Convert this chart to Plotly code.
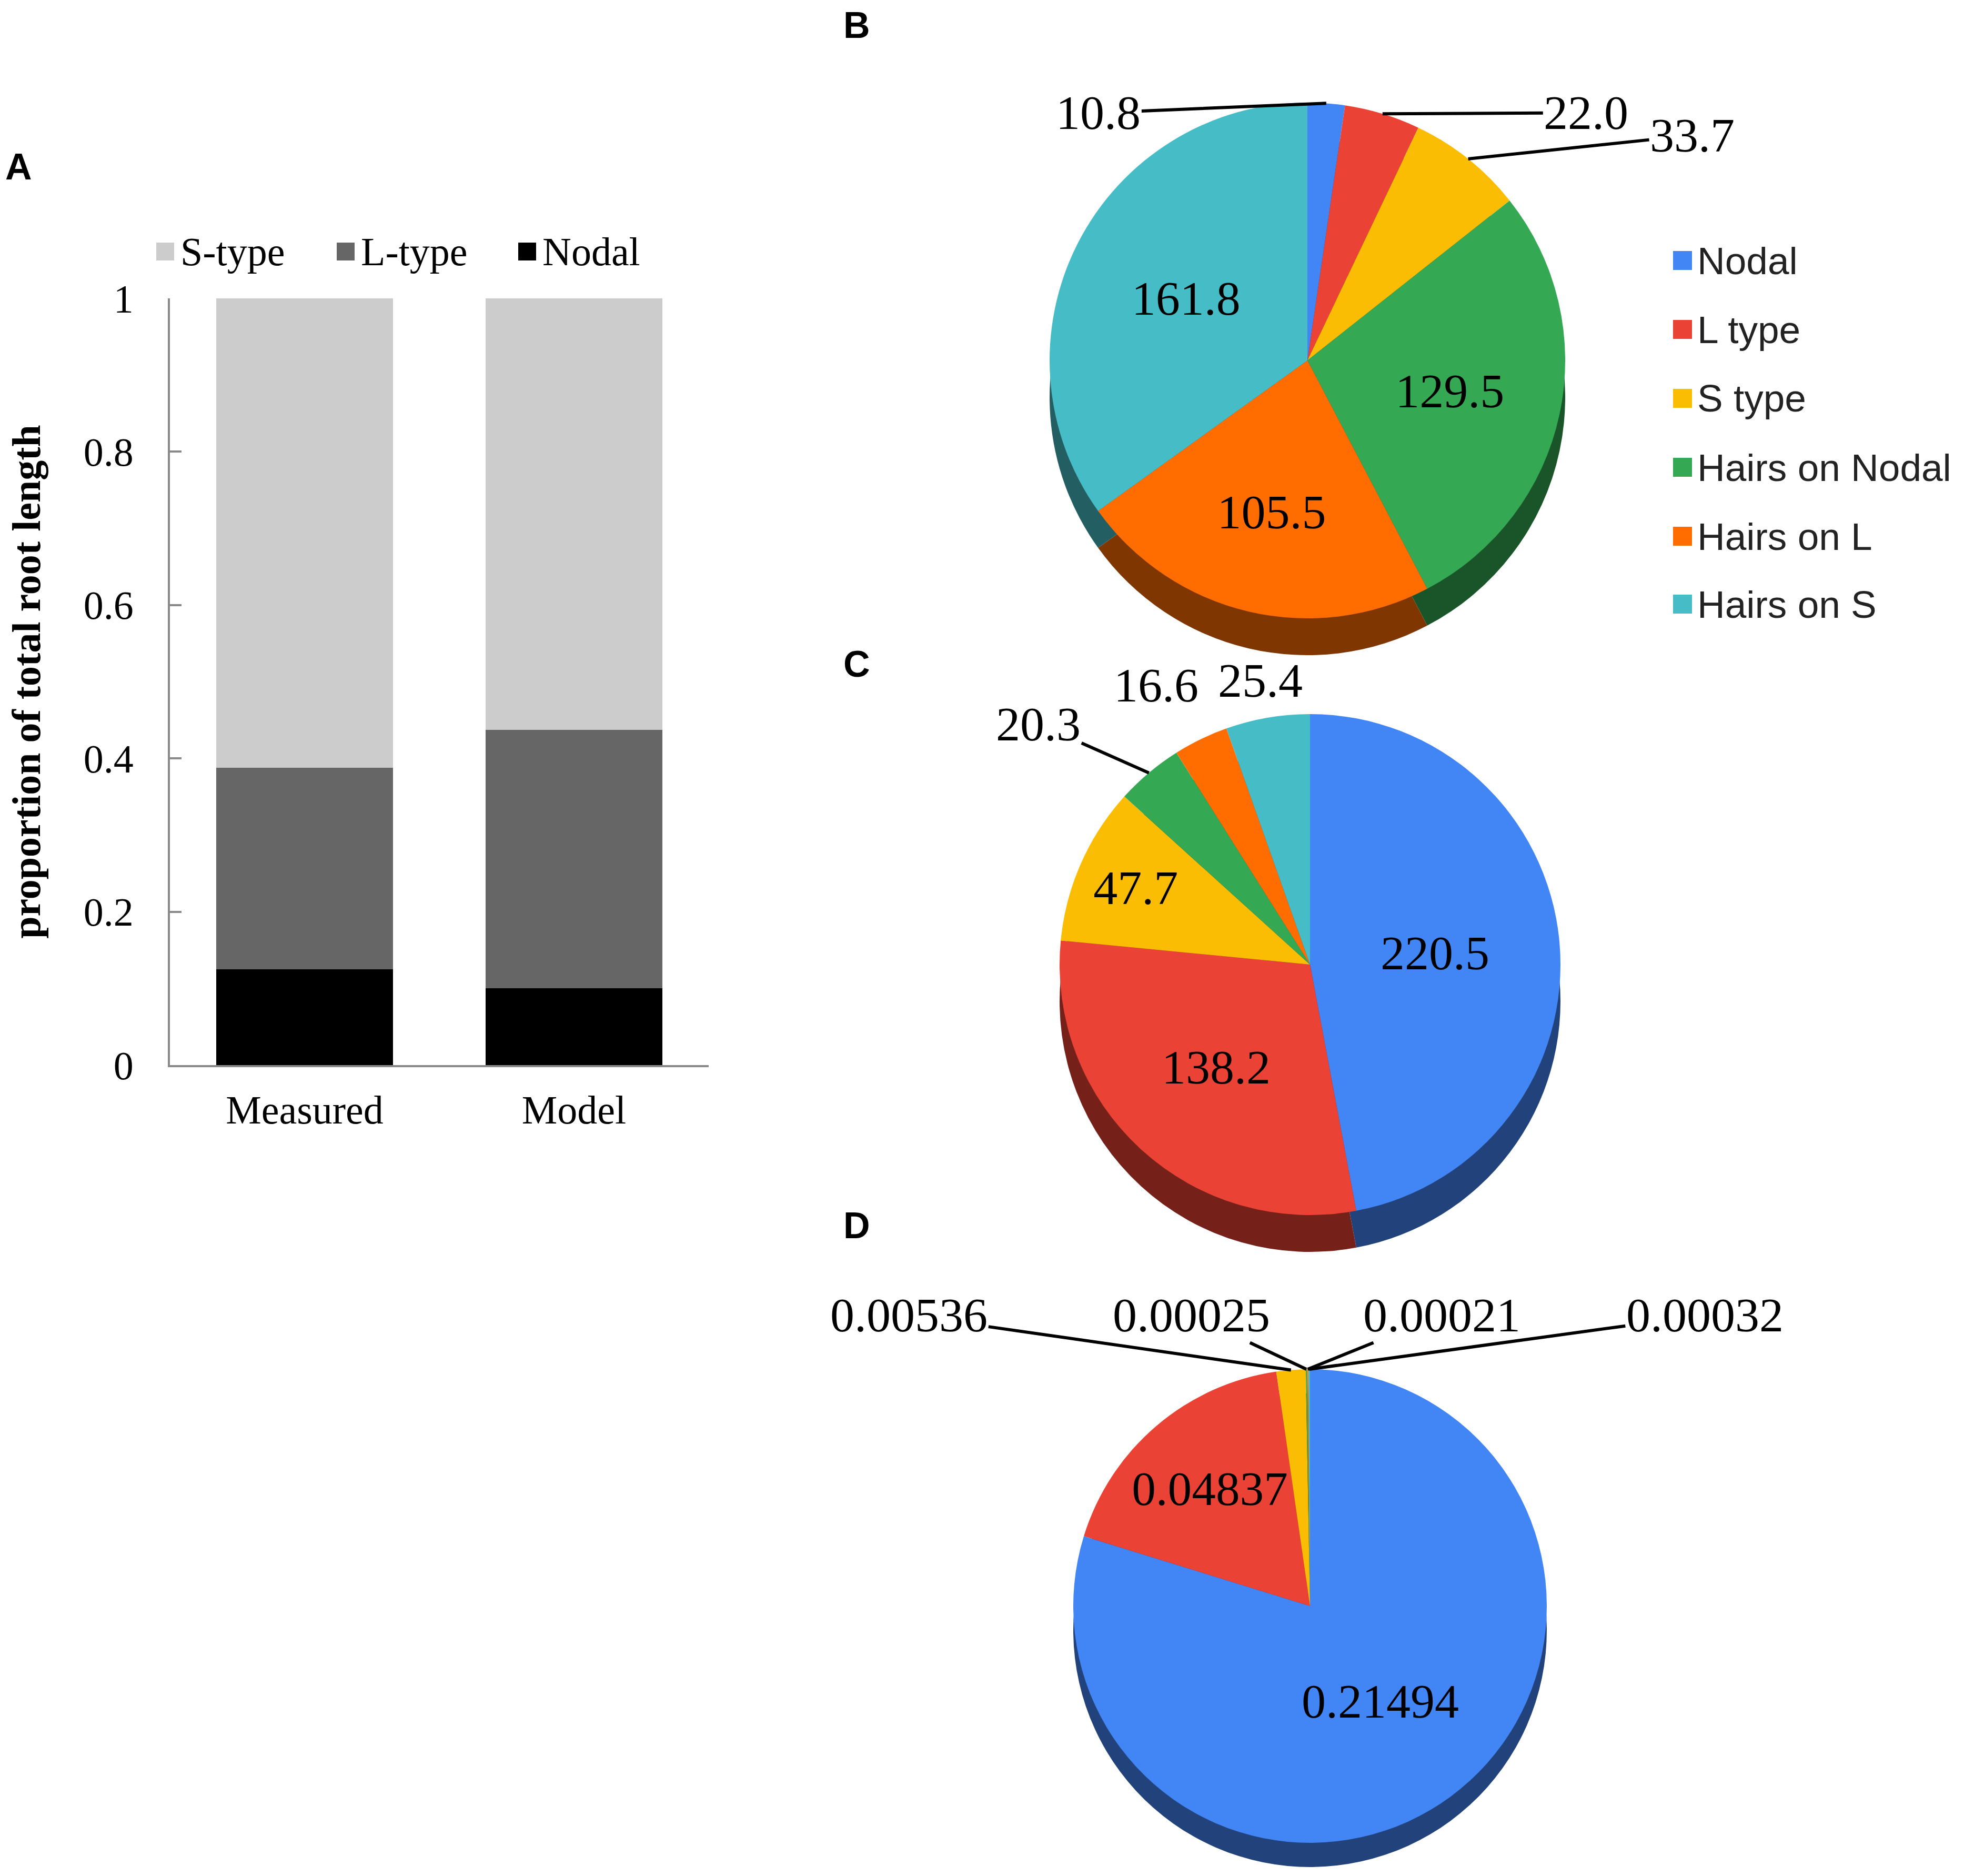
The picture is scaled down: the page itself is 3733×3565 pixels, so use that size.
import math
import plotly.graph_objects as go

W, H = 3733, 3565

# ---------------- data ----------------
# Panel A: proportion of total root length (stacked bars)
bar_categories = ["Measured", "Model"]
nodal_prop = [0.125, 0.100]
ltype_prop = [0.263, 0.337]
stype_prop = [0.612, 0.563]
bar_series_names = ["Nodal", "L-type", "S-type"]
legend_a_order = ["S-type", "L-type", "Nodal"]
y_tick_values = [0, 0.2, 0.4, 0.6, 0.8, 1]
y_tick_labels = ["0", "0.2", "0.4", "0.6", "0.8", "1"]

# Panels B, C, D: pies
pie_labels = ["Nodal", "L type", "S type", "Hairs on Nodal", "Hairs on L", "Hairs on S"]
pie_b_values = [10.8, 22.0, 33.7, 129.5, 105.5, 161.8]
pie_c_values = [220.5, 138.2, 47.7, 20.3, 16.6, 25.4]
pie_d_values = [0.21494, 0.04837, 0.00536, 0.00025, 0.00021, 0.00032]

# ---------------- styles ----------------
SERIF = "Liberation Serif"
SANS = "Liberation Sans"
bar_colors = {"Nodal": "#000000", "L-type": "#666666", "S-type": "#cccccc"}
pie_colors = ["#4285f4", "#ea4335", "#fbbc04", "#34a853", "#ff6d01", "#46bdc6"]
axis_gray = "#8a8a8a"

# page offset of the figure (body margin)
PX0, PW = 6.0, float(W)
PY0, PH = 8.0, float(H)


def darken(hex_color, f=0.5):
    h = hex_color.lstrip("#")
    r, g, b = (int(h[i:i + 2], 16) for i in (0, 2, 4))
    return "#{:02x}{:02x}{:02x}".format(int(r * f), int(g * f), int(b * f))


def px(x, y):
    """page pixel -> paper coordinates"""
    return (x - PX0) / PW, 1 - (y - PY0) / PH


def pie_domain(cx, cy, r):
    x0, y1 = px(cx - r, cy - r)
    x1, y0 = px(cx + r, cy + r)
    return dict(x=[x0, x1], y=[y0, y1])


fig = go.Figure()

# ---------------- Panel A ----------------
A_left, A_right, A_top, A_bottom = 321, 1345, 567, 2024
ax0, ay1 = px(A_left, A_top)
ax1, ay0 = px(A_right, A_bottom)
for name, vals in zip(bar_series_names, [nodal_prop, ltype_prop, stype_prop]):
    fig.add_trace(go.Bar(
        x=bar_categories, y=vals, name=name,
        marker=dict(color=bar_colors[name], line=dict(width=0)),
        width=0.655, showlegend=False, hoverinfo="skip",
        xaxis="x", yaxis="y",
    ))

fig.update_layout(
    barmode="stack",
    xaxis=dict(
        domain=[ax0, ax1], anchor="y", range=[-0.5, 1.5],
        showline=True, linecolor=axis_gray, linewidth=4, ticks="",
        showgrid=False, zeroline=False,
        tickfont=dict(family=SERIF, size=76, color="black"),
        ticklabelstandoff=16,
    ),
    yaxis=dict(
        domain=[ay0, ay1], anchor="x", range=[0, 1],
        tickvals=y_tick_values, ticktext=y_tick_labels,
        ticks="inside", ticklen=22, tickwidth=4, tickcolor=axis_gray,
        showline=True, linecolor=axis_gray, linewidth=4,
        showgrid=False, zeroline=False,
        tickfont=dict(family=SERIF, size=76, color="black"),
        ticklabelstandoff=50,
        title=dict(text="proportion of total root length",
                   font=dict(family=SERIF, size=76, color="black", weight="bold"),
                   standoff=72),
    ),
)

shapes = []
annotations = []

# Legend A (swatches + text)
legend_a_swatch_x = [312, 655, 1000]
legend_a_y = 478
sw = 34
for name, sx in zip(legend_a_order, legend_a_swatch_x):
    x0, y1 = px(sx - sw / 2, legend_a_y - sw / 2)
    x1, y0 = px(sx + sw / 2, legend_a_y + sw / 2)
    shapes.append(dict(type="rect", xref="paper", yref="paper", x0=x0, x1=x1, y0=y0, y1=y1,
                       fillcolor=bar_colors[name], line=dict(width=0)))
    tx, ty = px(sx + sw / 2 + 10, legend_a_y)
    annotations.append(dict(text=name, x=tx, y=ty, xref="paper", yref="paper",
                            xanchor="left", yanchor="middle", showarrow=False,
                            font=dict(family=SERIF, size=76, color="black")))

# ---------------- Pies ----------------
panels = [
    dict(values=pie_b_values, cx=2483, cy=685, r=490, depth=70, fmt="{:.1f}",
         outside={0: (-433, 18, True), 1: (387, -2, True), 2: (426, -45, True)}),
    dict(values=pie_c_values, cx=2488, cy=1833, r=476, depth=70, fmt="{:.1f}",
         outside={3: (-210, -93, True), 4: (-85, -103, False), 5: (-14, -71, False)}),
    dict(values=pie_d_values, cx=2488, cy=3052, r=450, depth=46, fmt="{:.5f}",
         outside={2: (-726, -104, True), 3: (-219, -103, True), 4: (255, -103, True), 5: (752, -103, True)}),
]

for p in panels:
    vals = p["values"]
    total = sum(vals)
    cx, cy, r, d = p["cx"], p["cy"], p["r"], p["depth"]
    # side (depth) of the pie
    fig.add_trace(go.Pie(
        labels=pie_labels, values=vals, sort=False, direction="clockwise", rotation=0,
        marker=dict(colors=[darken(c, 0.5) for c in pie_colors], line=dict(width=0)),
        textinfo="none", hoverinfo="skip", showlegend=False,
        domain=pie_domain(cx, cy + d, r),
    ))
    texts, positions = [], []
    for i, v in enumerate(vals):
        if i in p["outside"]:
            texts.append("")
            positions.append("none")
        else:
            texts.append(p["fmt"].format(v))
            positions.append("inside")
    fig.add_trace(go.Pie(
        labels=pie_labels, values=vals, sort=False, direction="clockwise", rotation=0,
        marker=dict(colors=pie_colors, line=dict(width=0)),
        text=texts, textinfo="text", textposition=positions,
        insidetextorientation="horizontal",
        insidetextfont=dict(family=SERIF, size=92, color="black"),
        hoverinfo="skip", showlegend=False,
        domain=pie_domain(cx, cy, r),
    ))
    # outside labels with leader lines
    cum = 0.0
    for i, v in enumerate(vals):
        if i in p["outside"]:
            theta = 2 * math.pi * (cum + v / 2) / total
            ex = cx + r * math.sin(theta)
            ey = cy - r * math.cos(theta)
            ax_, ay_, arrow = p["outside"][i]
            x, y = px(ex, ey)
            ann = dict(text=p["fmt"].format(v), x=x, y=y, xref="paper", yref="paper",
                       font=dict(family=SERIF, size=92, color="black"))
            if arrow:
                ann.update(showarrow=True, ax=ax_, ay=ay_, arrowhead=0, arrowwidth=6,
                           arrowcolor="black", standoff=0, startstandoff=0)
            else:
                ann.update(showarrow=False, xshift=ax_, yshift=-ay_)
            annotations.append(ann)
        cum += v

# Legend B
legend_b_rows = [495, 626, 757, 888, 1019, 1148]
legend_b_swatch_x = 3196
sb = 36
for name, col, ry in zip(pie_labels, pie_colors, legend_b_rows):
    x0, y1 = px(legend_b_swatch_x - sb / 2, ry - sb / 2)
    x1, y0 = px(legend_b_swatch_x + sb / 2, ry + sb / 2)
    shapes.append(dict(type="rect", xref="paper", yref="paper", x0=x0, x1=x1, y0=y0, y1=y1,
                       fillcolor=col, line=dict(width=0)))
    tx, ty = px(legend_b_swatch_x + sb / 2 + 8, ry)
    annotations.append(dict(text=name, x=tx, y=ty, xref="paper", yref="paper",
                            xanchor="left", yanchor="middle", showarrow=False,
                            font=dict(family=SANS, size=73, color="#222222")))

# Panel letters
for letter, (lx, ly) in zip(["A", "B", "C", "D"], [(33, 317), (1626, 48), (1626, 1262), (1626, 2329)]):
    x, y = px(lx, ly)
    annotations.append(dict(text=letter, x=x, y=y, xref="paper", yref="paper",
                            xanchor="center", yanchor="middle", showarrow=False,
                            font=dict(family=SANS, size=70, color="black", weight="bold")))

fig.update_layout(
    width=W, height=H,
    margin=dict(l=0, r=0, t=0, b=0, autoexpand=False),
    paper_bgcolor="white", plot_bgcolor="white",
    shapes=shapes, annotations=annotations,
    showlegend=False,
)

fig.write_html("out.html")
